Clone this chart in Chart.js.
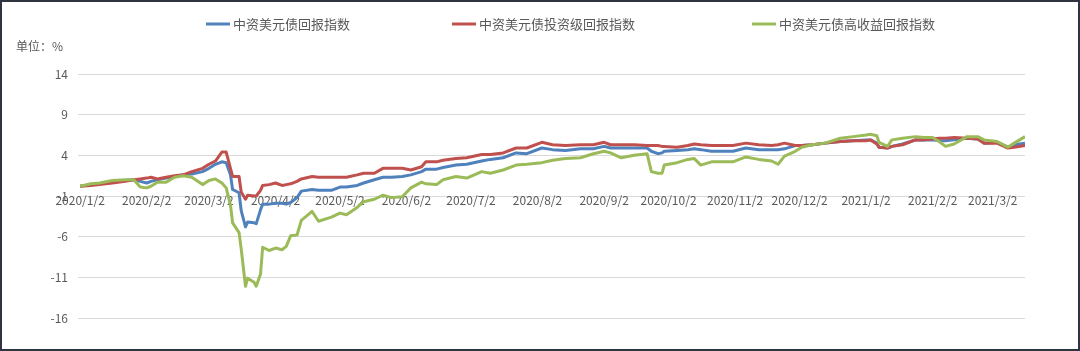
<!DOCTYPE html>
<html>
<head>
<meta charset="utf-8">
<script src="https://cdn.jsdelivr.net/npm/chart.js@4.4.1/dist/chart.umd.min.js"></script>
<style>
  html, body { margin: 0; padding: 0; background: #fff; }
  canvas { display: block; }
</style>
</head>
<body>
<canvas id="chart" width="1080" height="351"></canvas>
<script>
// ---- data ----
const seriesNames = ['中资美元债回报指数', '中资美元债投资级回报指数', '中资美元债高收益回报指数'];

const dates = [
  '2020-01-02','2020-01-07','2020-01-11','2020-01-17','2020-01-23','2020-01-27','2020-01-30','2020-02-02','2020-02-04','2020-02-07',
  '2020-02-11','2020-02-15','2020-02-19','2020-02-23','2020-02-28','2020-03-02','2020-03-05','2020-03-08','2020-03-10','2020-03-12',
  '2020-03-13','2020-03-16','2020-03-17','2020-03-19','2020-03-20','2020-03-23','2020-03-24','2020-03-26','2020-03-27','2020-03-30',
  '2020-04-02','2020-04-05','2020-04-07','2020-04-09','2020-04-12','2020-04-14','2020-04-19','2020-04-22','2020-04-28','2020-05-02',
  '2020-05-05','2020-05-10','2020-05-13','2020-05-18','2020-05-22','2020-05-26','2020-05-31','2020-06-04','2020-06-09','2020-06-11',
  '2020-06-16','2020-06-19','2020-06-25','2020-06-30','2020-07-07','2020-07-11','2020-07-17','2020-07-23','2020-07-28','2020-08-04',
  '2020-08-09','2020-08-15','2020-08-22','2020-08-28','2020-09-02','2020-09-05','2020-09-10','2020-09-16','2020-09-22','2020-09-24',
  '2020-09-27','2020-09-29','2020-09-30','2020-10-06','2020-10-11','2020-10-14','2020-10-17','2020-10-22','2020-11-01','2020-11-07',
  '2020-11-13','2020-11-19','2020-11-22','2020-11-25','2020-11-30','2020-12-03','2020-12-08','2020-12-14','2020-12-21','2020-12-27',
  '2021-01-02','2021-01-04','2021-01-07','2021-01-08','2021-01-12','2021-01-14','2021-01-19','2021-01-25','2021-01-29','2021-02-02',
  '2021-02-05','2021-02-08','2021-02-12','2021-02-18','2021-02-23','2021-02-26','2021-03-04','2021-03-09','2021-03-12','2021-03-17'
];

// 中资美元债回报指数
const totalReturn = [
  0.2, 0.4, 0.5, 0.7, 0.9, 1.0, 0.8, 0.6, 0.8, 1.0,
  1.2, 1.4, 1.6, 1.7, 2.0, 2.4, 2.9, 3.2, 3.1, 1.6,
  -0.2, -0.6, -2.8, -4.8, -4.2, -4.3, -4.4, -2.7, -2.0, -2.0,
  -1.9, -1.9, -2.0, -1.8, -1.2, -0.4, -0.2, -0.3, -0.3, 0.1,
  0.1, 0.3, 0.6, 1.0, 1.3, 1.3, 1.4, 1.6, 2.0, 2.3,
  2.3, 2.5, 2.8, 2.9, 3.3, 3.5, 3.7, 4.3, 4.2, 4.9,
  4.7, 4.6, 4.8, 4.8, 5.1, 4.9, 4.9, 4.9, 4.9, 4.5,
  4.2, 4.3, 4.5, 4.6, 4.7, 4.8, 4.7, 4.5, 4.5, 4.9,
  4.7, 4.7, 4.7, 4.8, 5.2, 5.2, 5.3, 5.5, 5.7, 5.8,
  5.9, 5.9, 5.5, 5.0, 4.9, 5.1, 5.4, 5.9, 5.9, 5.9,
  5.8, 5.8, 5.9, 6.1, 6.0, 5.5, 5.6, 5.0, 5.3, 5.5
];

// 中资美元债投资级回报指数
const igReturn = [
  0.2, 0.3, 0.4, 0.6, 0.8, 1.0, 1.1, 1.2, 1.3, 1.1,
  1.3, 1.5, 1.6, 2.0, 2.4, 2.9, 3.3, 4.4, 4.4, 2.4,
  1.4, 1.4, -0.5, -1.4, -0.9, -1.0, -1.0, -0.3, 0.3, 0.4,
  0.6, 0.3, 0.4, 0.5, 0.8, 1.1, 1.4, 1.3, 1.3, 1.3,
  1.3, 1.6, 1.8, 1.8, 2.4, 2.4, 2.4, 2.2, 2.6, 3.2,
  3.2, 3.4, 3.6, 3.7, 4.1, 4.1, 4.3, 4.9, 4.9, 5.6,
  5.3, 5.2, 5.3, 5.3, 5.6, 5.3, 5.3, 5.3, 5.2, 5.2,
  5.2, 5.1, 5.1, 5.0, 5.2, 5.4, 5.3, 5.2, 5.2, 5.5,
  5.3, 5.2, 5.3, 5.5, 5.2, 5.2, 5.3, 5.5, 5.7, 5.8,
  5.8, 5.9, 5.4, 5.0, 4.9, 5.1, 5.3, 5.9, 5.9, 6.0,
  6.1, 6.1, 6.2, 6.1, 6.0, 5.5, 5.5, 4.9, 5.0, 5.2
];

// 中资美元债高收益回报指数
const hyReturn = [
  0.2, 0.5, 0.6, 0.9, 1.0, 1.0, 0.1, 0.0, 0.2, 0.7,
  0.7, 1.3, 1.5, 1.3, 0.4, 0.9, 1.1, 0.6, 0.0, -2.1,
  -4.3, -5.5, -7.5, -12.1, -11.1, -11.6, -12.1, -10.6, -7.3, -7.7,
  -7.4, -7.6, -7.2, -5.9, -5.8, -4.0, -2.9, -4.1, -3.6, -3.1,
  -3.3, -2.4, -1.7, -1.4, -0.9, -1.2, -1.1, 0.0, 0.7, 0.5,
  0.4, 1.0, 1.4, 1.2, 2.0, 1.8, 2.2, 2.8, 2.9, 3.1,
  3.4, 3.6, 3.7, 4.2, 4.5, 4.3, 3.7, 4.0, 4.2, 2.0,
  1.8, 1.8, 2.8, 3.1, 3.5, 3.6, 2.8, 3.2, 3.2, 3.8,
  3.5, 3.3, 2.9, 3.9, 4.5, 5.0, 5.3, 5.5, 6.1, 6.3,
  6.5, 6.6, 6.4, 5.6, 5.1, 5.9, 6.1, 6.3, 6.2, 6.2,
  5.7, 5.1, 5.4, 6.3, 6.3, 5.9, 5.7, 5.0, 5.5, 6.3
];

const xTickLabels = [
  '2020/1/2', '2020/2/2', '2020/3/2', '2020/4/2', '2020/5/2', '2020/6/2', '2020/7/2', '2020/8/2',
  '2020/9/2', '2020/10/2', '2020/11/2', '2020/12/2', '2021/1/2', '2021/2/2', '2021/3/2'
];
const yTickValues = [-16, -11, -6, -1, 4, 9, 14];

// ---- helpers ----
const seriesColors = ['#4F81BD', '#C0504D', '#9BBB59'];
const textColor = '#595959';
const fontFamily = "'Noto Sans CJK SC', 'Noto Sans', sans-serif";

// days since 2020/1/2 (axis is a date axis)
function dayOffset(str) {
  const p = str.split(/[-\/]/).map(Number);
  return (Date.UTC(p[0], p[1] - 1, p[2]) - Date.UTC(2020, 0, 2)) / 86400000;
}

function toPoints(values) {
  return values.map((v, i) => ({ x: dayOffset(dates[i]), y: v }));
}

Chart.defaults.font.family = fontFamily;
Chart.defaults.color = textColor;

// background, frame, unit text and legend
const decorPlugin = {
  id: 'decor',
  beforeDraw(chart) {
    const ctx = chart.ctx;
    ctx.save();
    ctx.fillStyle = '#ffffff';
    ctx.fillRect(0, 0, chart.width, chart.height);
    ctx.restore();
  },
  afterDraw(chart) {
    const ctx = chart.ctx;
    ctx.save();
    ctx.strokeStyle = '#2f3441';
    ctx.lineWidth = 2;
    ctx.strokeRect(1, 1, chart.width - 2, chart.height - 2);

    ctx.font = '12px ' + fontFamily;
    ctx.fillStyle = textColor;
    ctx.textBaseline = 'middle';
    ctx.fillText('单位：%', 16, 46);

    const legendX = [206, 452, 752];
    seriesNames.forEach((name, i) => {
      const x = legendX[i];
      ctx.strokeStyle = seriesColors[i];
      ctx.lineWidth = 3;
      ctx.beginPath();
      ctx.moveTo(x, 24);
      ctx.lineTo(x + 24, 24);
      ctx.stroke();
      ctx.font = '13px ' + fontFamily;
      ctx.fillStyle = textColor;
      ctx.fillText(name, x + 27, 24);
    });
    ctx.restore();
  }
};

new Chart(document.getElementById('chart'), {
  type: 'line',
  data: {
    datasets: [
      { label: seriesNames[0], data: toPoints(totalReturn), borderColor: seriesColors[0], order: 3 },
      { label: seriesNames[1], data: toPoints(igReturn), borderColor: seriesColors[1], order: 2 },
      { label: seriesNames[2], data: toPoints(hyReturn), borderColor: seriesColors[2], order: 1 }
    ]
  },
  options: {
    responsive: false,
    animation: false,
    layout: { padding: { top: 74, bottom: 33, left: 0, right: 55 } },
    elements: {
      line: { borderWidth: 3, tension: 0, fill: false, borderJoinStyle: 'round' },
      point: { radius: 0, hoverRadius: 0 }
    },
    scales: {
      x: {
        type: 'linear',
        min: -1,
        max: 440,
        position: { y: -1 },
        afterBuildTicks: scale => {
          scale.ticks = xTickLabels.map(l => ({ value: dayOffset(l) }));
        },
        grid: { display: false, drawTicks: false },
        border: { display: false },
        ticks: {
          autoSkip: false,
          maxRotation: 0,
          padding: -3,
          font: { size: 12 },
          callback: (v, i) => xTickLabels[i]
        }
      },
      y: {
        min: -16,
        max: 14,
        afterBuildTicks: scale => {
          scale.ticks = yTickValues.map(v => ({ value: v }));
        },
        afterFit: scale => { scale.width = 78; },
        grid: { color: '#d9d9d9', lineWidth: 1, drawTicks: false },
        border: { display: false },
        ticks: { padding: 10, font: { size: 12 } }
      }
    },
    plugins: {
      legend: { display: false },
      tooltip: { enabled: false }
    }
  },
  plugins: [decorPlugin]
});
</script>
</body>
</html>
